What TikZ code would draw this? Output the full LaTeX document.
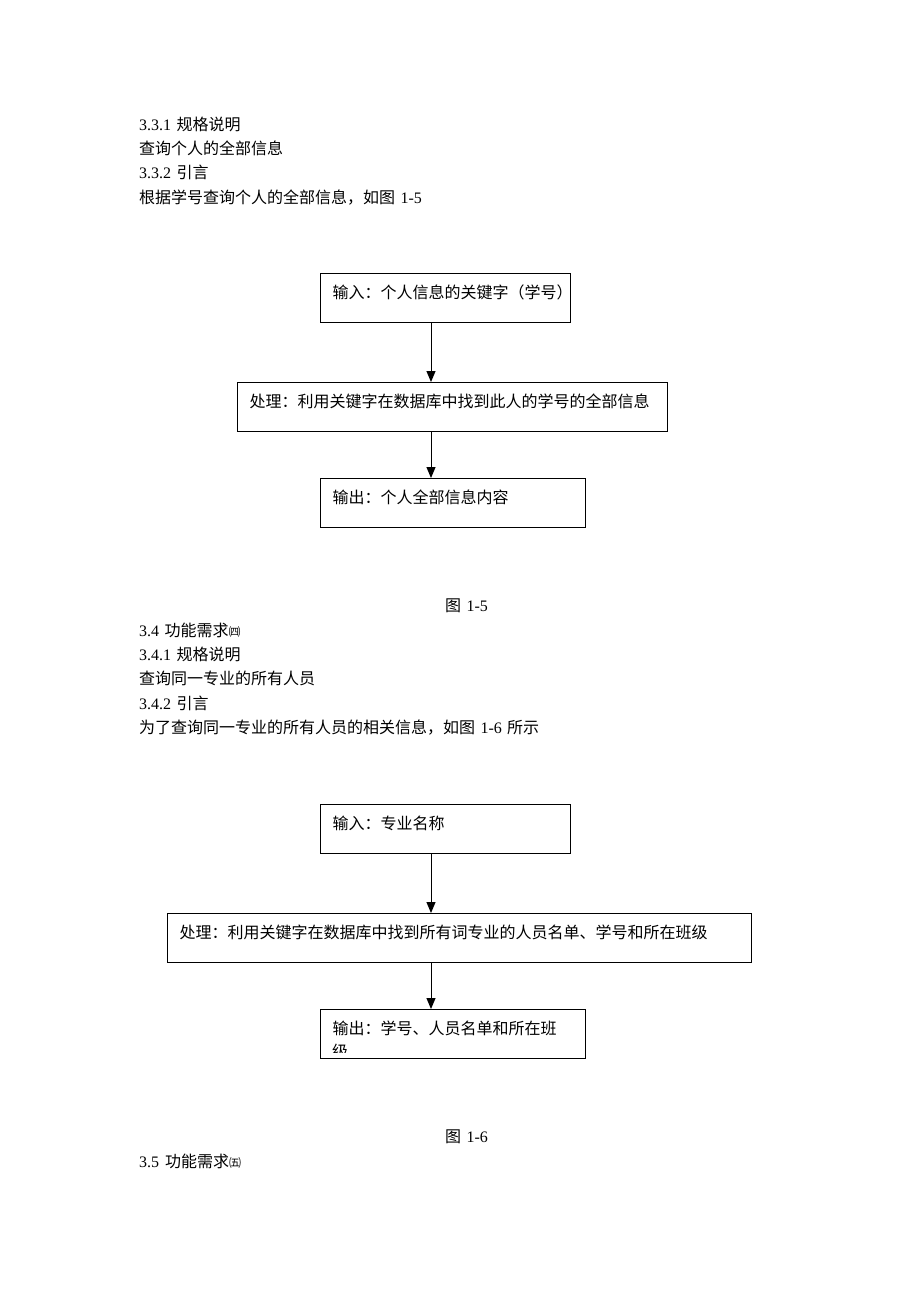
\documentclass[tikz,border=0pt]{standalone}
\usepackage{fontspec}
\setmainfont{Liberation Serif}
\newfontfamily\cjk{Noto Sans CJK SC}
\usetikzlibrary{arrows.meta,positioning}

\newcommand\zh[1]{{\cjk #1}}
\newcommand\bodyfont{\fontsize{16pt}{24pt}\selectfont}
\newcommand\enc[1]{{\cjk\fontsize{12pt}{12pt}\selectfont #1}}

\tikzset{
  textline/.style={inner sep=0pt, anchor=west, text width=600pt, align=left,
    text height=18pt, text depth=6pt},
  flowbox/.style={draw, line width=1.3pt, inner xsep=12pt, inner ysep=0pt,
    text height=25pt, text depth=24pt, align=left, anchor=north west,
    font={\bodyfont\cjk}},
  flowarrow/.style={-{Triangle[width=9pt,length=11pt]}, line width=1pt}
}

\begin{document}
\begin{tikzpicture}[x=1pt, y=-1pt, font=\bodyfont]
    \path [fill=white, use as bounding box] (0,0) rectangle (920,1302);

    % 3.3
    \node (s331) [textline] at (139,124) {3.3.1 \zh{规格说明}};
    \node (s331t) [textline, below=0pt of s331] {\zh{查询个人的全部信息}};
    \node (s332) [textline, below=0pt of s331t] {3.3.2 \zh{引言}};
    \node (s332t) [textline, below=0pt of s332] {\zh{根据学号查询个人的全部信息，如图} 1-5};

    \node (in1) [flowbox, text width=226pt] at (320,273) {输入：个人信息的关键字（学号）};
    \node (proc1) [flowbox, text width=406pt] at (237,382) {处理：利用关键字在数据库中找到此人的学号的全部信息};
    \node (out1) [flowbox, text width=241pt] at (320,478) {输出：个人全部信息内容};

    \coordinate (ax1) at (431,0);
    \draw [flowarrow] (in1.south -| ax1) -- (proc1.north -| ax1);
    \draw [flowarrow] (proc1.south -| ax1) -- (out1.north -| ax1);

    \node (fig15) [textline] at (445,605) {\zh{图} 1-5};

    % 3.4
    \node (s34) [textline] at (139,630) {3.4 \zh{功能需求}\enc{㈣}};
    \node (s341) [textline, below=0pt of s34] {3.4.1 \zh{规格说明}};
    \node (s341t) [textline, below=0pt of s341] {\zh{查询同一专业的所有人员}};
    \node (s342) [textline, below=0pt of s341t] {3.4.2 \zh{引言}};
    \node (s342t) [textline, below=0pt of s342] {\zh{为了查询同一专业的所有人员的相关信息，如图} 1-6 \zh{所示}};

    \node (in2) [flowbox, text width=226pt] at (320,804) {输入：专业名称};
    \node (proc2) [flowbox, text width=560pt] at (167,913) {处理：利用关键字在数据库中找到所有词专业的人员名单、学号和所在班级};
    \node (out2) [flowbox, text width=241pt] at (320,1009) {输出：学号、人员名单和所在班};
    \begin{scope}
        \clip (out2.north west) rectangle ([yshift=7pt]out2.south east);
        \node (out2b) [textline, font={\bodyfont\cjk}] at (332,1051) {级};
    \end{scope}

    \draw [flowarrow] (in2.south -| ax1) -- (proc2.north -| ax1);
    \draw [flowarrow] (proc2.south -| ax1) -- (out2.north -| ax1);

    \node (fig16) [textline] at (445,1136) {\zh{图} 1-6};

    % 3.5
    \node (s35) [textline] at (139,1161) {3.5\hspace{6pt}\zh{功能需求}\enc{㈤}};
\end{tikzpicture}
\end{document}
